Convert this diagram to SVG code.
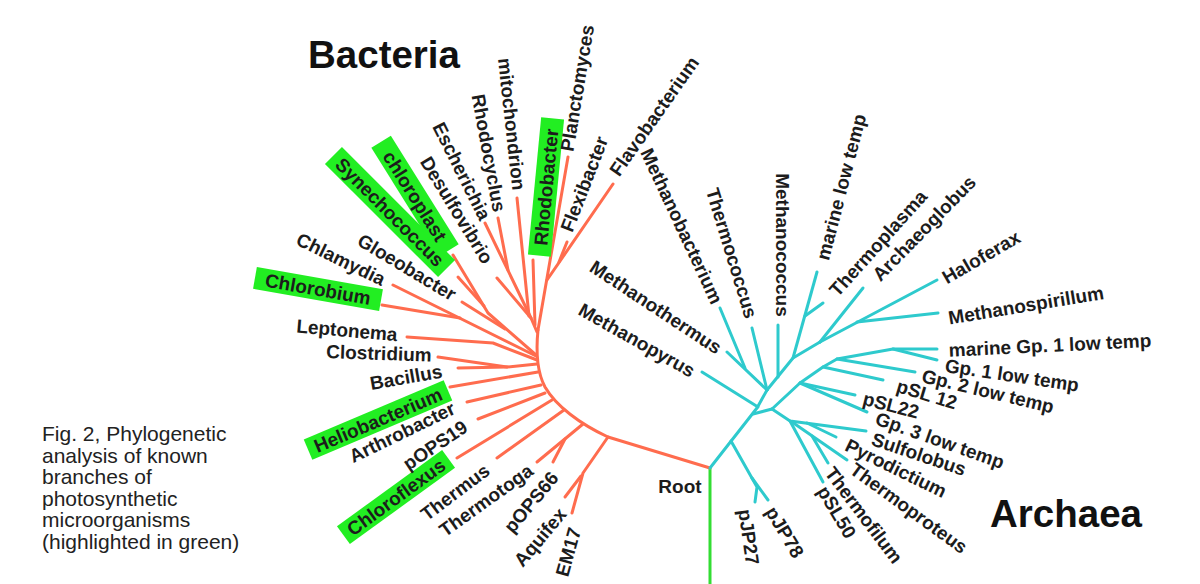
<svg xmlns="http://www.w3.org/2000/svg" width="1200" height="584" viewBox="0 0 1200 584">
<style>
.b{stroke:#FF6C4E;stroke-width:3;fill:none;stroke-linecap:round;stroke-linejoin:round}
.a{stroke:#2ECACD;stroke-width:3;fill:none;stroke-linecap:round;stroke-linejoin:round}
.g{stroke:#33DD33;stroke-width:3;fill:none}
.l{font-family:"Liberation Sans",Arial,sans-serif;font-weight:bold;font-size:19px;fill:#1c1c1c;text-anchor:middle}
.t{font-family:"Liberation Sans",Arial,sans-serif;font-weight:bold;font-size:38.5px;fill:#111}
.cap{font-family:"Liberation Sans",Arial,sans-serif;font-size:21px;fill:#222}
.hl{fill:#22EE22}
</style>
<rect width="1200" height="584" fill="#fff"/>
<g id="connectors">
  <path class="g" d="M710,468 L710,584"/>
  <!-- Bacteria -->
  <path class="b" d="M710,468 L608,437 C580,424 556,406 545,387 C537,372 536,350 538,330"/>
  <path class="b" d="M538,330 L568,157"/>
  <path class="b" d="M613,184 L547,280"/>
  <path class="b" d="M567,242 L559,262"/>
  <path class="b" d="M533,260 L535,325"/>
  <path class="b" d="M517,198 L529,316"/>
  <path class="b" d="M485,223 L531,318 L537,332"/>
  <path class="b" d="M498,218 L508,270"/>
  <path class="b" d="M497,278 L531,318"/>
  <path class="b" d="M453,255 L488,313 L536,355"/>
  <path class="b" d="M458,277 L484,306"/>
  <path class="b" d="M462,302 L505,329"/>
  <path class="b" d="M393,285 L536,356"/>
  <path class="b" d="M382,305 L460,318"/>
  <path class="b" d="M407,337 L493,343 L537,360"/>
  <path class="b" d="M438,357 L507,367 L537,364"/>
  <path class="b" d="M458,368 L507,367"/>
  <path class="b" d="M450,387 L538,372"/>
  <path class="b" d="M467,402 L541,385"/>
  <path class="b" d="M478,419 L545,393"/>
  <path class="b" d="M457,458 L552,400"/>
  <path class="b" d="M497,458 L564,410"/>
  <path class="b" d="M537,462 L583,424"/>
  <path class="b" d="M553,462 L565,439"/>
  <path class="b" d="M608,437 L583,473 L572,513"/>
  <path class="b" d="M565,497 L581,476"/>
  <!-- Archaea -->
  <path class="a" d="M710,468 L757,408 L767,390"/>
  <path class="a" d="M753,414 L772,409"/>
  <path class="a" d="M702,372 L758,407"/>
  <path class="a" d="M727,352 L767,390"/>
  <path class="a" d="M720,308 L745,368"/>
  <path class="a" d="M752,328 L767,390"/>
  <path class="a" d="M767,390 L793,358 L820,342"/>
  <path class="a" d="M778,377 L778,325"/>
  <path class="a" d="M793,358 L817,272"/>
  <path class="a" d="M805,316 L823,303"/>
  <path class="a" d="M820,342 L937,280"/>
  <path class="a" d="M820,342 L863,288"/>
  <path class="a" d="M857,322 L938,313"/>
  <path class="a" d="M772,409 L800,383 L823,367 L837,359 L893,349 L937,349"/>
  <path class="a" d="M893,349 L937,360"/>
  <path class="a" d="M837,359 L915,372"/>
  <path class="a" d="M823,367 L883,380"/>
  <path class="a" d="M800,383 L855,395"/>
  <path class="a" d="M800,383 L867,412"/>
  <path class="a" d="M772,409 L790,421 L866,431"/>
  <path class="a" d="M807,423 L836,437"/>
  <path class="a" d="M792,422 L847,460"/>
  <path class="a" d="M812,436 L828,463"/>
  <path class="a" d="M790,421 L823,482"/>
  <path class="a" d="M731,441 L757,487 L755,502"/>
  <path class="a" d="M752,478 L768,500"/>
</g>
<g id="titles">
  <text class="t" x="308" y="68">Bacteria</text>
  <text class="t" x="990" y="527">Archaea</text>
</g>
<g id="caption" class="cap">
  <text x="42" y="441">Fig. 2, Phylogenetic</text>
  <text x="42" y="462.6">analysis of known</text>
  <text x="42" y="484.2">branches of</text>
  <text x="42" y="505.8">photosynthetic</text>
  <text x="42" y="527.4">microorganisms</text>
  <text x="42" y="549">(highlighted in green)</text>
</g>
<g id="root"><text class="l" x="680" y="493">Root</text></g>
<!-- Bacteria nodes -->
<g id="chlorobium" transform="translate(318,289) rotate(10)"><rect class="hl" x="-64" y="-11" width="128" height="22"/><text class="l" dy="0.36em">Chlorobium</text></g>
<g id="synechococcus" transform="translate(390,212) rotate(45)"><rect class="hl" x="-80" y="-12" width="160" height="24"/><text class="l" dy="0.36em">Synechococcus</text></g>
<g id="chloroplast" transform="translate(415,196) rotate(58)"><rect class="hl" x="-64" y="-11.5" width="128" height="23"/><text class="l" dy="0.36em">chloroplast</text></g>
<g id="rhodobacter" transform="translate(546,187) rotate(-84.5)"><rect class="hl" x="-69" y="-11.5" width="138" height="23"/><text class="l" dy="0.36em">Rhodobacter</text></g>
<g id="heliobacterium" transform="translate(378,420) rotate(-23)"><rect class="hl" x="-76" y="-11" width="152" height="22"/><text class="l" dy="0.36em">Heliobacterium</text></g>
<g id="chloroflexus" transform="translate(396,497) rotate(-36)"><rect class="hl" x="-65" y="-11" width="130" height="22"/><text class="l" dy="0.36em">Chloroflexus</text></g>
<g id="chlamydia"><text class="l" dy="0.36em" transform="translate(341,259) rotate(26)">Chlamydia</text></g>
<g id="gloeobacter"><text class="l" dy="0.36em" transform="translate(407,267) rotate(31)">Gloeobacter</text></g>
<g id="desulfovibrio"><text class="l" dy="0.36em" transform="translate(457,210) rotate(58.5)">Desulfovibrio</text></g>
<g id="escherichia"><text class="l" dy="0.36em" transform="translate(462,171) rotate(63.4)">Escherichia</text></g>
<g id="rhodocyclus"><text class="l" dy="0.36em" transform="translate(489,153) rotate(79.6)">Rhodocyclus</text></g>
<g id="mitochondrion"><text class="l" dy="0.36em" transform="translate(512,124) rotate(83.7)">mitochondrion</text></g>
<g id="planctomyces"><text class="l" dy="0.36em" transform="translate(577,88) rotate(-80.6)">Planctomyces</text></g>
<g id="flexibacter"><text class="l" dy="0.36em" transform="translate(584,184) rotate(-68.8)">Flexibacter</text></g>
<g id="flavobacterium"><text class="l" dy="0.36em" transform="translate(654,116) rotate(-55)">Flavobacterium</text></g>
<g id="leptonema"><text class="l" dy="0.36em" transform="translate(347,330) rotate(5)">Leptonema</text></g>
<g id="clostridium"><text class="l" dy="0.36em" transform="translate(379,353) rotate(2)">Clostridium</text></g>
<g id="bacillus"><text class="l" dy="0.36em" transform="translate(406,377) rotate(-10)">Bacillus</text></g>
<g id="arthrobacter"><text class="l" dy="0.36em" transform="translate(402,432) rotate(-26)">Arthrobacter</text></g>
<g id="pops19"><text class="l" dy="0.36em" transform="translate(435,445) rotate(-33.7)">pOPS19</text></g>
<g id="thermus"><text class="l" dy="0.36em" transform="translate(455,492) rotate(-37)">Thermus</text></g>
<g id="thermotoga"><text class="l" dy="0.36em" transform="translate(486,500) rotate(-35.6)">Thermotoga</text></g>
<g id="pops66"><text class="l" dy="0.36em" transform="translate(531,502) rotate(-50)">pOPS66</text></g>
<g id="aquifex"><text class="l" dy="0.36em" transform="translate(540,537) rotate(-50)">Aquifex</text></g>
<g id="em17"><text class="l" dy="0.36em" transform="translate(568,552) rotate(-74.5)">EM17</text></g>
<!-- Archaea nodes -->
<g id="methanopyrus"><text class="l" dy="0.36em" transform="translate(637,340) rotate(29.4)">Methanopyrus</text></g>
<g id="methanothermus"><text class="l" dy="0.36em" transform="translate(656,307) rotate(33.4)">Methanothermus</text></g>
<g id="methanobacterium"><text class="l" dy="0.36em" transform="translate(682,226) rotate(65)">Methanobacterium</text></g>
<g id="thermococcus"><text class="l" dy="0.36em" transform="translate(732,253) rotate(73)">Thermococcus</text></g>
<g id="methanococcus"><text class="l" dy="0.36em" transform="translate(783,245) rotate(90)">Methanococcus</text></g>
<g id="marine-low-temp"><text class="l" dy="0.36em" transform="translate(841,187) rotate(-75.5)">marine low temp</text></g>
<g id="thermoplasma"><text class="l" dy="0.36em" transform="translate(878,243) rotate(-48)">Thermoplasma</text></g>
<g id="archaeoglobus"><text class="l" dy="0.36em" transform="translate(924,228) rotate(-45.6)">Archaeoglobus</text></g>
<g id="haloferax"><text class="l" dy="0.36em" transform="translate(981,257) rotate(-30)">Haloferax</text></g>
<g id="methanospirillum"><text class="l" dy="0.36em" transform="translate(1026,305) rotate(-9.4)">Methanospirillum</text></g>
<g id="marine-gp1"><text class="l" dy="0.36em" transform="translate(1050,345) rotate(-2.8)">marine Gp. 1 low temp</text></g>
<g id="gp1"><text class="l" dy="0.36em" transform="translate(1012,375) rotate(8.4)">Gp. 1 low temp</text></g>
<g id="gp2"><text class="l" dy="0.36em" transform="translate(988,391) rotate(13.5)">Gp. 2 low temp</text></g>
<g id="psl12"><text class="l" dy="0.36em" transform="translate(927,394) rotate(16.7)">pSL 12</text></g>
<g id="psl22"><text class="l" dy="0.36em" transform="translate(891,405) rotate(14.5)">pSL22</text></g>
<g id="gp3"><text class="l" dy="0.36em" transform="translate(940,440) rotate(19.5)">Gp. 3 low temp</text></g>
<g id="sulfolobus"><text class="l" dy="0.36em" transform="translate(919,454) rotate(18.6)">Sulfolobus</text></g>
<g id="pyrodictium"><text class="l" dy="0.36em" transform="translate(896,468) rotate(26)">Pyrodictium</text></g>
<g id="thermoproteus"><text class="l" dy="0.36em" transform="translate(909,508) rotate(36)">Thermoproteus</text></g>
<g id="thermofilum"><text class="l" dy="0.36em" transform="translate(864,515) rotate(53)">Thermofilum</text></g>
<g id="psl50"><text class="l" dy="0.36em" transform="translate(837,512) rotate(59)">pSL50</text></g>
<g id="pjp78"><text class="l" dy="0.36em" transform="translate(785,532) rotate(59)">pJP78</text></g>
<g id="pjp27"><text class="l" dy="0.36em" transform="translate(749,537) rotate(82)">pJP27</text></g>
</svg>
